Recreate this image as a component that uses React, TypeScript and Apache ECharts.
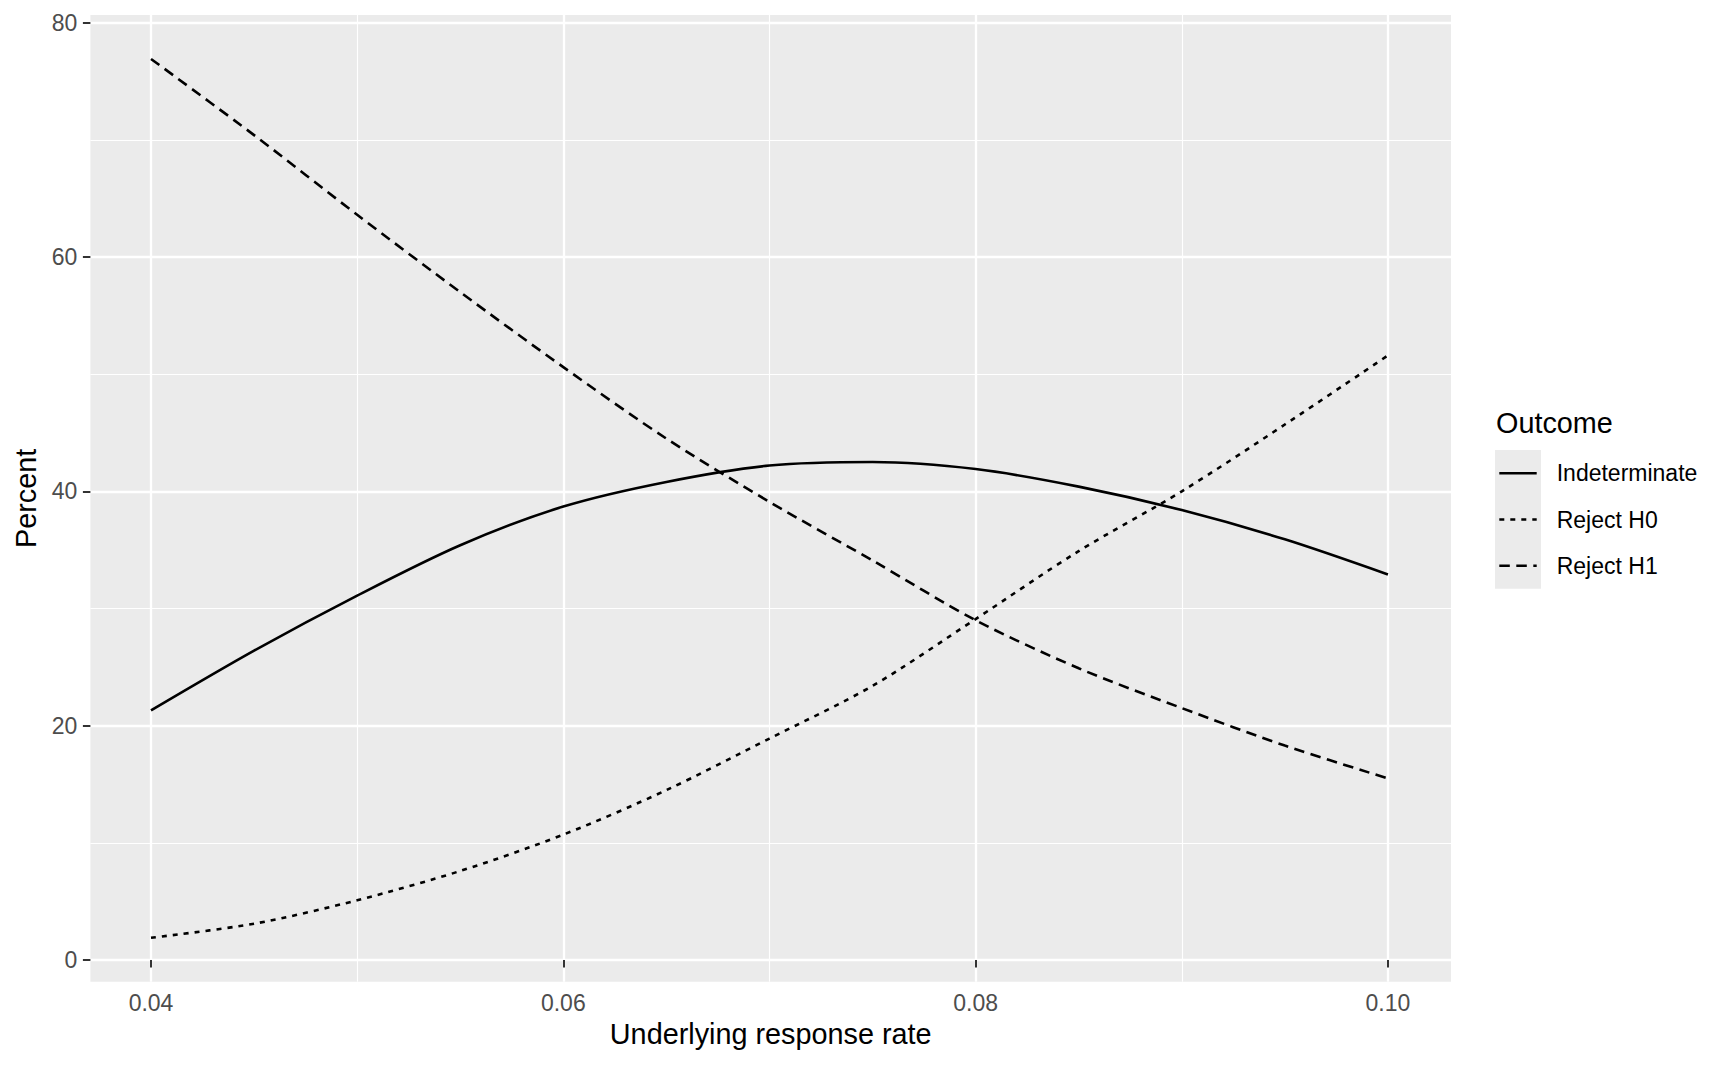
import React, { useEffect, useRef } from "react";
import * as echarts from "echarts";

const rates = [0.04, 0.045, 0.05, 0.055, 0.06, 0.065, 0.07, 0.075, 0.08, 0.085, 0.09, 0.095, 0.1];
const indeterminate = [21.3, 26.4, 31.1, 35.4, 38.7, 40.8, 42.2, 42.5, 41.9, 40.4, 38.4, 35.9, 32.9];
const rejectH0 = [1.9, 3.1, 5.1, 7.6, 10.7, 14.5, 18.9, 23.4, 29.1, 34.9, 40.0, 45.7, 51.6];
const rejectH1 = [76.9, 70.4, 63.6, 57.0, 50.6, 44.5, 39.1, 34.1, 29.0, 24.9, 21.5, 18.3, 15.5];

const xMajorTicks = [0.04, 0.06, 0.08, 0.1];
const xMinorTicks = [0.05, 0.07, 0.09];
const yMajorTicks = [0, 20, 40, 60, 80];
const yMinorTicks = [10, 30, 50, 70];

const seriesNames = ["Indeterminate", "Reject H0", "Reject H1"];
const legendTitle = "Outcome";
const xTitle = "Underlying response rate";
const yTitle = "Percent";

const FONT = "'Liberation Sans', Arial, Helvetica, sans-serif";
const DOTTED = [5, 6];
const DASHED = [10.5, 6.5];
const LW = 2.6;

export default function App() {
  const ref = useRef<HTMLDivElement>(null);

  useEffect(() => {
    if (!ref.current) return;
    const chart = echarts.init(ref.current, undefined, { renderer: "svg" });

    const gridLeft = 90.4;
    const gridTop = 15;
    const gridW = 1360.6;
    const gridH = 966.7;

    const toPairs = (vals: number[]) => rates.map((x, i) => [x, vals[i]]);
    const dashes: any[] = ["solid", DOTTED, DASHED];
    const values = [indeterminate, rejectH0, rejectH1];

    const keyY = [473.3, 519.5, 565.7];

    const option: any = {
      animation: false,
      backgroundColor: "#FFFFFF",
      grid: {
        left: gridLeft,
        top: gridTop,
        width: gridW,
        height: gridH,
        show: true,
        backgroundColor: "#EBEBEB",
        borderWidth: 0,
        containLabel: false,
      },
      xAxis: [
        {
          type: "value",
          min: 0.03706,
          max: 0.10306,
          position: "bottom",
          axisLine: { show: false },
          axisTick: {
            show: true,
            length: 7.5,
            customValues: xMajorTicks,
            lineStyle: { color: "#333333", width: 2 },
          },
          axisLabel: {
            show: true,
            customValues: xMajorTicks,
            formatter: (v: number) => v.toFixed(2),
            margin: 10,
            fontSize: 23,
            color: "#4D4D4D",
            fontFamily: FONT,
          },
          splitLine: { show: true, lineStyle: { color: "#FFFFFF", width: 2.3 } },
          minorSplitLine: { show: false },
          name: xTitle,
          nameLocation: "middle",
          nameGap: 52,
          nameTextStyle: {
            fontSize: 28.8,
            color: "#000000",
            fontFamily: FONT,
            verticalAlign: "middle",
          },
        },
        {
          type: "value",
          min: 0.03706,
          max: 0.10306,
          position: "top",
          axisLine: { show: false },
          axisTick: { show: false, customValues: xMinorTicks },
          axisLabel: { show: false, customValues: xMinorTicks },
          splitLine: { show: true, lineStyle: { color: "#FFFFFF", width: 1.15 } },
        },
      ],
      yAxis: [
        {
          type: "value",
          min: -1.85,
          max: 80.65,
          position: "left",
          axisLine: { show: false },
          axisTick: {
            show: true,
            length: 7.5,
            customValues: yMajorTicks,
            lineStyle: { color: "#333333", width: 2 },
          },
          axisLabel: {
            show: true,
            customValues: yMajorTicks,
            formatter: (v: number) => String(Math.round(v)),
            margin: 13,
            fontSize: 23,
            color: "#4D4D4D",
            fontFamily: FONT,
          },
          splitLine: { show: true, lineStyle: { color: "#FFFFFF", width: 2.3 } },
          name: yTitle,
          nameLocation: "middle",
          nameGap: 64,
          nameRotate: 90,
          nameTextStyle: {
            fontSize: 28.8,
            color: "#000000",
            fontFamily: FONT,
            verticalAlign: "middle",
          },
        },
        {
          type: "value",
          min: -1.85,
          max: 80.65,
          position: "right",
          axisLine: { show: false },
          axisTick: { show: false, customValues: yMinorTicks },
          axisLabel: { show: false, customValues: yMinorTicks },
          splitLine: { show: true, lineStyle: { color: "#FFFFFF", width: 1.15 } },
        },
      ],
      series: seriesNames.map((name, i) => ({
        name,
        type: "line",
        xAxisIndex: 0,
        yAxisIndex: 0,
        data: toPairs(values[i]),
        symbol: "none",
        showSymbol: false,
        smooth: 0.3,
        z: 3,
        lineStyle: { color: "#000000", width: LW, type: dashes[i], cap: "butt" },
      })),
      graphic: [
        {
          type: "text",
          x: 1496,
          y: 422.7,
          style: {
            text: legendTitle,
            fontSize: 28.8,
            fontFamily: FONT,
            fill: "#000000",
            align: "left",
            verticalAlign: "middle",
          },
        },
        {
          type: "rect",
          shape: { x: 1495, y: 450, width: 46, height: 138.7 },
          style: { fill: "#EBEBEB" },
        },
        ...seriesNames.map((name, i) => ({
          type: "line",
          shape: { x1: 1499.3, y1: keyY[i], x2: 1536.7, y2: keyY[i] },
          style: {
            stroke: "#000000",
            lineWidth: LW,
            lineDash: i === 0 ? null : (dashes[i] as number[]),
          },
        })),
        ...seriesNames.map((name, i) => ({
          type: "text",
          x: 1556.7,
          y: keyY[i],
          style: {
            text: name,
            fontSize: 23,
            fontFamily: FONT,
            fill: "#000000",
            align: "left",
            verticalAlign: "middle",
          },
        })),
      ],
    };

    chart.setOption(option);
    return () => {
      chart.dispose();
    };
  }, []);

  return (
    <div
      ref={ref}
      style={{ position: "fixed", left: 0, top: 0, width: 1728, height: 1067 }}
    />
  );
}
